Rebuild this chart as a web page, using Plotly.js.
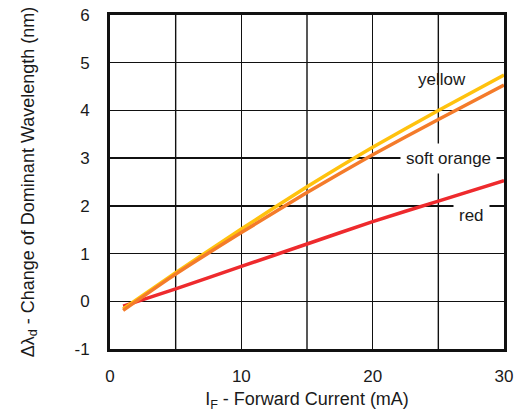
<!DOCTYPE html>
<html>
<head>
<meta charset="utf-8">
<script src="https://cdn.plot.ly/plotly-3.0.1.min.js"></script>
<style>html,body{margin:0;padding:0;background:#fff;}#chart{width:517px;height:412px;}</style>
</head>
<body>
<div id="chart"></div>
<script>
const current = [1, 5, 10, 15, 20, 25, 30];
const yellowShift = [-0.16, 0.60, 1.515, 2.40, 3.23, 4.00, 4.74];
const softOrangeShift = [-0.19, 0.57, 1.44, 2.28, 3.07, 3.81, 4.53];
const redShift = [-0.10, 0.26, 0.73, 1.20, 1.67, 2.10, 2.53];
const seriesNames = ["red", "yellow", "soft orange"];
const seriesColors = ["#EE2A2D", "#FFC20E", "#F47B2A"];
const xTicks = [0, 10, 20, 30];
const yTicks = [-1, 0, 1, 2, 3, 4, 5, 6];

const seriesData = [redShift, yellowShift, softOrangeShift];
const traces = seriesData.map((ys, i) => ({
  x: current, y: ys, type: 'scatter', mode: 'lines', name: seriesNames[i],
  line: {color: seriesColors[i], width: 3.5, shape: 'spline', smoothing: 0.5},
  hoverinfo: 'skip'
}));

const font = {family: 'Liberation Sans, Arial, sans-serif', size: 17, color: '#1a1a1a'};
const titleFont = {family: 'Liberation Sans, Arial, sans-serif', size: 18, color: '#1a1a1a'};

const layout = {
  width: 517, height: 412,
  margin: {l: 110, r: 13, t: 15, b: 63},
  paper_bgcolor: '#fff', plot_bgcolor: '#fff',
  showlegend: false,
  font: font,
  xaxis: {
    range: [0, 30], tickvals: xTicks, ticktext: xTicks.map(String),
    showgrid: true, gridcolor: '#111', gridwidth: 1.4,
    zeroline: false, showline: true, linecolor: '#111', linewidth: 3, mirror: true,
    ticks: '', ticklabelstandoff: 10,
    tickfont: font,
    title: {text: 'I<sub>F</sub> - Forward Current (mA)', font: titleFont, standoff: 10}
  },
  yaxis: {
    range: [-1, 6], tickvals: yTicks, ticktext: yTicks.map(String),
    showgrid: true, gridcolor: '#111', gridwidth: 1.4,
    zeroline: false, showline: true, linecolor: '#111', linewidth: 3, mirror: true,
    ticks: '', ticklabelstandoff: 14,
    tickfont: font,
    title: {text: 'Δλ<sub>d</sub> - Change of Dominant Wavelength (nm)', font: titleFont, standoff: 36}
  },
  shapes: [
    {type: 'line', xref: 'x', yref: 'y', x0: 5, x1: 5, y0: -1, y1: 6, line: {color: '#111', width: 1.4}, layer: 'below'},
    {type: 'line', xref: 'x', yref: 'y', x0: 15, x1: 15, y0: -1, y1: 6, line: {color: '#111', width: 1.4}, layer: 'below'},
    {type: 'line', xref: 'x', yref: 'y', x0: 25, x1: 25, y0: -1, y1: 6, line: {color: '#111', width: 1.4}, layer: 'below'}
  ],
  annotations: [
    {x: 25.3, y: 4.65, xref: 'x', yref: 'y', text: 'yellow', showarrow: false, font: font},
    {x: 25.8, y: 3.0, xref: 'x', yref: 'y', text: 'soft orange', showarrow: false, font: font, bgcolor: '#fff', borderpad: 5},
    {x: 27.5, y: 1.8, xref: 'x', yref: 'y', text: 'red', showarrow: false, font: font, bgcolor: '#fff', borderpad: 5}
  ]
};

Plotly.newPlot('chart', traces, layout, {displayModeBar: false, staticPlot: true});
</script>
</body>
</html>
